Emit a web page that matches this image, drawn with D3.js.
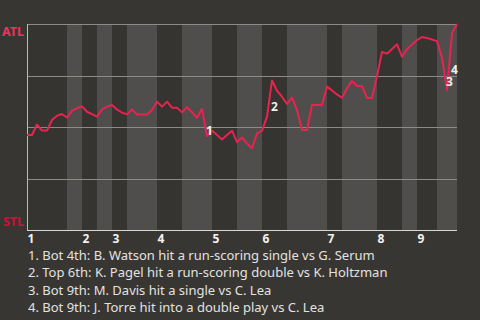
<!DOCTYPE html>
<html>
<head>
<meta charset="utf-8">
<script src="https://cdn.jsdelivr.net/npm/d3@7"></script>
<style>
  body { margin: 0; background: #383633; }
  svg { display: block; font-family: "Noto Sans", sans-serif; }
</style>
</head>
<body>
<div id="wrapper"></div>
<script>
// win probability for ATL after each plate appearance
const winProb = [
  0.461, 0.461, 0.512, 0.483, 0.483, 0.534, 0.555, 0.563, 0.546, 0.578,
  0.592, 0.600, 0.574, 0.562, 0.550, 0.585, 0.600, 0.607, 0.585, 0.570,
  0.562, 0.585, 0.561, 0.561, 0.561, 0.583, 0.623, 0.599, 0.623, 0.594,
  0.594, 0.571, 0.596, 0.571, 0.545, 0.587, 0.456, 0.483, 0.461, 0.439,
  0.461, 0.482, 0.427, 0.449, 0.420, 0.398, 0.469, 0.481, 0.550, 0.726,
  0.676, 0.647, 0.612, 0.643, 0.583, 0.485, 0.485, 0.607, 0.607, 0.607,
  0.696, 0.677, 0.658, 0.642, 0.688, 0.723, 0.699, 0.699, 0.641, 0.641,
  0.748, 0.864, 0.856, 0.879, 0.902, 0.841, 0.877, 0.900, 0.922, 0.937,
  0.932, 0.925, 0.917, 0.835, 0.680, 0.956, 1.000
]

// plate appearance index where each half inning starts (last = end of game)
const halfInningStarts = [0, 8, 11, 14, 17, 20, 26, 31, 37, 42, 47, 52, 60, 63, 70, 75, 78, 82, 86]
const innings = [1, 2, 3, 4, 5, 6, 7, 8, 9]

const teams = { top: "ATL", bottom: "STL" }

const events = [
  { n: 1, pa: 36, text: "Bot 4th: B. Watson hit a run-scoring single vs G. Serum" },
  { n: 2, pa: 49, text: "Top 6th: K. Pagel hit a run-scoring double vs K. Holtzman" },
  { n: 3, pa: 84, text: "Bot 9th: M. Davis hit a single vs C. Lea" },
  { n: 4, pa: 85, text: "Bot 9th: J. Torre hit into a double play vs C. Lea" },
]

// chart dimensions
let dimensions = {
  width: 480,
  height: 320,
  margin: { top: 24, right: 23, bottom: 90, left: 27 },
}
dimensions.boundedWidth = dimensions.width - dimensions.margin.left - dimensions.margin.right
dimensions.boundedHeight = dimensions.height - dimensions.margin.top - dimensions.margin.bottom

const svg = d3.select("#wrapper")
  .append("svg")
    .attr("width", dimensions.width)
    .attr("height", dimensions.height)

svg.append("rect")
  .attr("width", dimensions.width)
  .attr("height", dimensions.height)
  .attr("fill", "#383633")

const bounds = svg.append("g")
  .attr("transform", `translate(${dimensions.margin.left},${dimensions.margin.top})`)

// scales
const xScale = d3.scaleLinear()
  .domain([0, winProb.length - 1])
  .range([0, dimensions.boundedWidth])

const yScale = d3.scaleLinear()
  .domain([0, 1])
  .range([dimensions.boundedHeight, 0])

// half inning bands, bottom halves are lighter
const halves = d3.pairs(halfInningStarts).map(([a, b], i) => ({ a, b, i }))

bounds.selectAll("rect.band")
  .data(halves)
  .join("rect")
    .attr("class", "band")
    .attr("x", d => xScale(d.a))
    .attr("width", d => xScale(d.b) - xScale(d.a))
    .attr("y", 0)
    .attr("height", dimensions.boundedHeight)
    .attr("fill", d => d.i % 2 ? "#4f4e4c" : "#363430")

// grid lines
bounds.selectAll("line.grid")
  .data([0.25, 0.5, 0.75, 1])
  .join("line")
    .attr("class", "grid")
    .attr("x1", 0)
    .attr("x2", dimensions.boundedWidth)
    .attr("y1", d => Math.round(yScale(d)) + 0.5)
    .attr("y2", d => Math.round(yScale(d)) + 0.5)
    .attr("stroke", "#8c8b88")

bounds.append("line")
  .attr("x1", 0.5).attr("x2", 0.5)
  .attr("y1", 0).attr("y2", dimensions.boundedHeight)
  .attr("stroke", "#bdbcb9")

bounds.append("line")
  .attr("x1", 0).attr("x2", dimensions.boundedWidth)
  .attr("y1", dimensions.boundedHeight + 0.5).attr("y2", dimensions.boundedHeight + 0.5)
  .attr("stroke", "#d8d7d4")

// win probability line
const lineGenerator = d3.line()
  .x((d, i) => xScale(i))
  .y(d => yScale(d))

bounds.append("path")
  .datum(winProb)
  .attr("d", lineGenerator)
  .attr("fill", "none")
  .attr("stroke", "#e8234f")
  .attr("stroke-width", 2)
  .attr("stroke-linejoin", "round")

// event markers, halfway along the segment that led to them
bounds.selectAll("text.event")
  .data(events)
  .join("text")
    .attr("class", "event")
    .attr("x", d => xScale(d.pa - 0.5) + 5)
    .attr("y", d => yScale((winProb[d.pa - 1] + winProb[d.pa]) / 2) + 8)
    .attr("text-anchor", "middle")
    .attr("dominant-baseline", "central")
    .attr("fill", "#eeeeec")
    .attr("font-size", 12)
    .attr("font-weight", "bold")
    .text(d => d.n)

// team labels
svg.append("text")
  .attr("x", dimensions.margin.left - 3)
  .attr("y", dimensions.margin.top + yScale(1) + 12)
  .attr("text-anchor", "end")
  .attr("fill", "#f0325c")
  .attr("font-size", 12.5)
  .attr("font-weight", "bold")
  .text(teams.top)

svg.append("text")
  .attr("x", dimensions.margin.left - 3)
  .attr("y", dimensions.margin.top + yScale(0) - 4)
  .attr("text-anchor", "end")
  .attr("fill", "#d0103a")
  .attr("font-size", 12.5)
  .attr("font-weight", "bold")
  .text(teams.bottom)

// inning labels at the start of each top half
bounds.selectAll("text.inning")
  .data(innings)
  .join("text")
    .attr("class", "inning")
    .attr("x", d => xScale(halfInningStarts[(d - 1) * 2]) + 0.5)
    .attr("y", dimensions.boundedHeight + 12.5)
    .attr("fill", "#f2f2f0")
    .attr("font-size", 12)
    .attr("font-weight", "bold")
    .text(d => d)

// event descriptions
svg.selectAll("text.desc")
  .data(events)
  .join("text")
    .attr("class", "desc")
    .attr("x", 28)
    .attr("y", (d, i) => 259.5 + i * 17.5)
    .attr("fill", "#e2e2e0")
    .attr("font-size", 13)
    .text(d => `${d.n}. ${d.text}`)
</script>
</body>
</html>
